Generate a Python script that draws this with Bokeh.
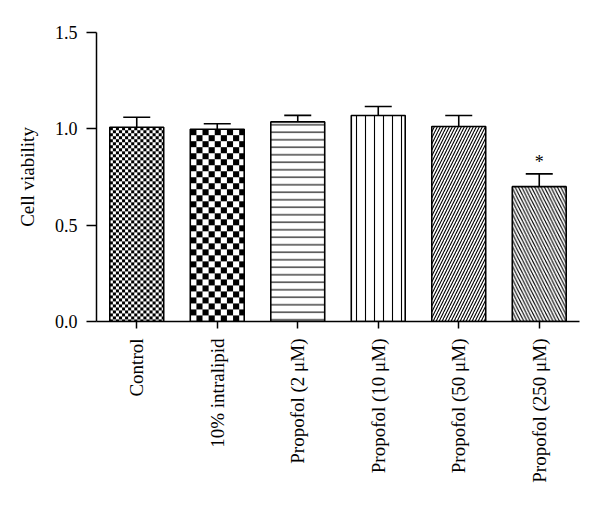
import math
import numpy as np
from bokeh.plotting import figure
from bokeh.models import ColumnDataSource, Whisker, TeeHead, FactorRange, FixedTicker
from bokeh.core.properties import value
from bokeh.embed import file_html
from bokeh.resources import INLINE

categories = ["Control", "10% intralipid", "Propofol (2 μM)", "Propofol (10 μM)",
              "Propofol (50 μM)", "Propofol (250 μM)"]
viability = [1.008, 0.998, 1.036, 1.069, 1.012, 0.700]
sem = [0.052, 0.028, 0.034, 0.047, 0.057, 0.066]
significance = ["", "", "", "", "", "*"]

# styles (one per bar); checker cell size in px (0 = none)
patterns = [" ", " ", "horizontal_line", "vertical_line",
            "right_diagonal_line", "left_diagonal_line"]
scales = [6, 12, 7.5, 9, 6, 6.5]
checker_px = [3, 6, 0, 0, 0, 0]

BAR_W = 0.67
FRAME_W, FRAME_H, Y_MAX = 483, 289, 1.5

upper = [v + e for v, e in zip(viability, sem)]

src = ColumnDataSource(dict(cat=categories, val=viability, up=upper,
                            pat=patterns, sc=scales, sig=significance))

FONT = "Liberation Serif"

p = figure(x_range=FactorRange(*categories, range_padding=0), y_range=(0, Y_MAX),
           width=592, height=498, output_backend="svg", toolbar_location=None,
           min_border_left=96, min_border_top=32, min_border_right=13,
           min_border_bottom=177)
p.outline_line_color = None
p.grid.visible = False
p.background_fill_color = "white"

p.vbar(x="cat", top="val", bottom=0, width=BAR_W, source=src,
       fill_color="white", line_color=None,
       hatch_pattern="pat", hatch_scale="sc", hatch_color="black", hatch_weight=1.1)

# checkerboard fills rendered as bitmaps matching the bar's pixel size
px_per_cat = FRAME_W / len(categories)
px_per_unit = FRAME_H / Y_MAX
for cat, val, cell in zip(categories, viability, checker_px):
    if not cell:
        continue
    wpx = int(round(BAR_W * px_per_cat))
    hpx = int(round(val * px_per_unit))
    jj, ii = np.meshgrid(np.arange(wpx), np.arange(hpx))
    ii_top = hpx - 1 - ii
    black = ((ii_top // cell + jj // cell) % 2) == 0
    img = np.where(black, np.uint32(0xFF000000), np.uint32(0xFFFFFFFF)).astype(np.uint32)
    p.image_rgba(image=[img], x=[(cat, -BAR_W / 2)], y=[0], dw=[BAR_W], dh=[val])

p.vbar(x="cat", top="val", bottom=0, width=BAR_W, source=src,
       fill_color=None, line_color="black", line_width=1.6)

w = Whisker(base="cat", lower="val", upper="up", source=src, dimension="height",
            line_color="black", line_width=1.6,
            upper_head=TeeHead(size=27, line_color="black", line_width=1.6),
            lower_head=None)
p.add_layout(w)

p.text(x="cat", y="up", text="sig", source=src, text_align="center",
       text_baseline="bottom", y_offset=-2, text_font=value(FONT),
       text_font_size="18px", text_color="black")

# axes
for ax in (p.xaxis[0], p.yaxis[0]):
    ax.axis_line_color = "black"
    ax.axis_line_width = 1.5
    ax.major_tick_line_color = "black"
    ax.major_tick_line_width = 1.5
    ax.minor_tick_line_color = None
    ax.major_tick_in = 0
    ax.major_label_text_font = FONT
    ax.major_label_text_color = "black"

p.yaxis.ticker = FixedTicker(ticks=[0, 0.5, 1.0, 1.5])
p.yaxis.major_label_overrides = {0: "0.0", 0.5: "0.5", 1: "1.0", 1.5: "1.5"}
p.yaxis.major_tick_out = 10
p.yaxis.major_label_standoff = 9
p.yaxis.major_label_text_font_size = "18px"
p.yaxis.axis_label = "Cell viability"
p.yaxis.axis_label_text_font = FONT
p.yaxis.axis_label_text_font_style = "normal"
p.yaxis.axis_label_text_font_size = "19px"
p.yaxis.axis_label_text_color = "black"
p.yaxis.axis_label_standoff = 14

p.xaxis.major_tick_out = 7
p.xaxis.major_label_standoff = 10
p.xaxis.major_label_orientation = math.pi / 2
p.xaxis.major_label_text_font_size = "19px"

open("out.html", "w").write(file_html(p, INLINE))
